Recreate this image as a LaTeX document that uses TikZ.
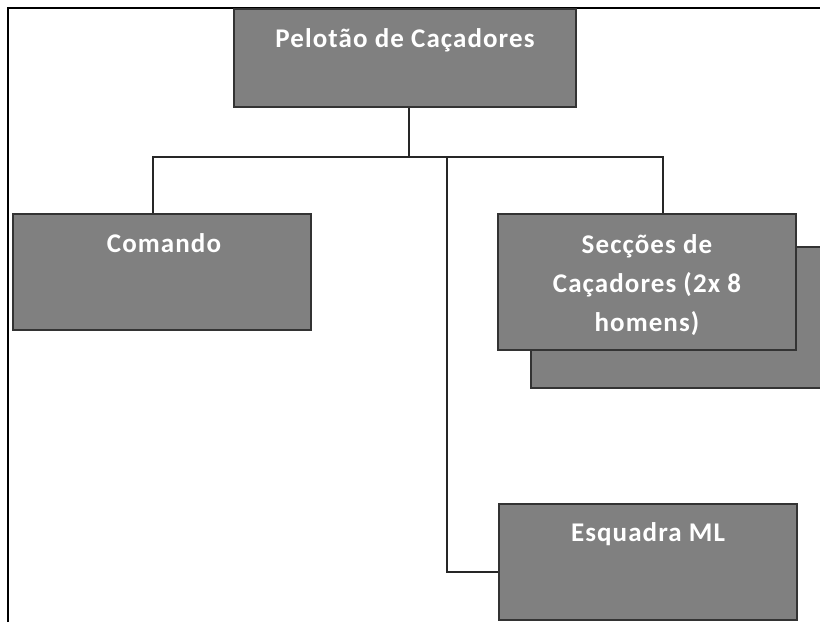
\documentclass[tikz,border=0pt]{standalone}
\usepackage{fontspec}
\setmainfont{Carlito}[LetterSpace=4]
\usepackage{tikz}
\usetikzlibrary{positioning, calc}

\begin{document}
\begin{tikzpicture}[
  x=1pt, y=-1pt,
  font=\fontsize{27}{39}\selectfont\bfseries,
  unit/.style={draw=black!80, line width=1.4pt, fill=black!50, rectangle,
               minimum width=298pt, inner sep=0pt},
  txt/.style={text=white, align=center, inner sep=0pt},
  link/.style={draw=black!85, line width=1.8pt}
]
\useasboundingbox (0,0) rectangle (820,622);
\clip (0,0) rectangle (820,622);

% Page frame
\draw[line width=2.6pt] (8,622) -- (8,8) -- (820,8);

% Top box
\node[unit, minimum width=342pt, minimum height=98pt] (TOP) at (405,58) {};
\node[txt, anchor=base] (TOPt) at ([yshift=-39pt]TOP.north) {Pelotão de Caçadores};

% Second row
\node[unit, minimum height=116pt] (CMD) at (162,272) {};
\node[txt, anchor=base] (CMDt) at ([xshift=2pt,yshift=-39pt]CMD.north) {Comando};

\node[unit, minimum height=141pt] (SECb) at (680,317.5) {};
\node[unit, minimum height=136pt] (SEC) at (647,282) {};
\node[txt, anchor=north] (SECt) at ([yshift=-21pt]SEC.north)
  {Secções de\\Caçadores (2x 8\\homens)};

% Bottom box
\node[unit, minimum height=116pt] (ESQ) at (648,562) {};
\node[txt, anchor=base] (ESQt) at ([yshift=-38pt]ESQ.north) {Esquadra ML};

% Connectors
\coordinate (bus) at (409,157);
\coordinate (busL) at (153,157);
\coordinate (busR) at (663,157);
\coordinate (esqT) at (447,157);
\coordinate (esqB) at (447,572);
\draw[link] (TOP.south -| bus) -- (bus);
\draw[link] (CMD.north -| busL) -- (busL) -- (busR) -- (SEC.north -| busR);
\draw[link] (esqT) -- (esqB) -- (esqB -| ESQ.west);

\end{tikzpicture}
\end{document}
